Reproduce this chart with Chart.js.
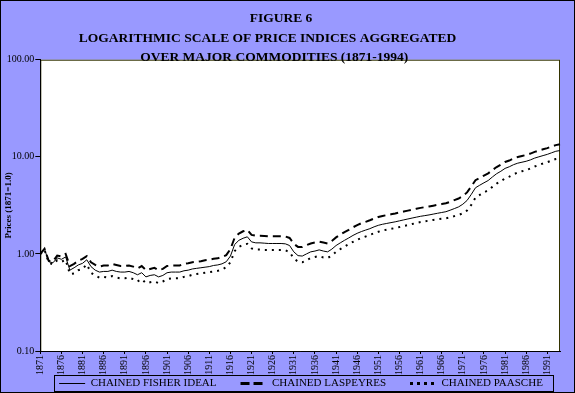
<!DOCTYPE html>
<html>
<head>
<meta charset="utf-8">
<script src="https://cdn.jsdelivr.net/npm/chart.js@4.4.0/dist/chart.umd.min.js"></script>
<style>
  html, body { margin: 0; padding: 0; background: #9999ff; }
</style>
</head>
<body>
<canvas id="fig6" width="575" height="393"></canvas>
<script>
// years 1871..1994, one point per year
const years = [];
for (let y = 1871; y <= 1994; y++) years.push(String(y));

const labelStep = 5;            // a year label every 5 years
const yTicks = [0.1, 1, 10, 100];

const fisher = [
  1.00, 1.12, 0.83, 0.81, 0.91, 0.88, 0.93, 0.68, 0.72, 0.77,
  0.80, 0.87, 0.74, 0.68, 0.65, 0.66, 0.66, 0.68, 0.66, 0.65,
  0.65, 0.66, 0.64, 0.61, 0.64, 0.58, 0.60, 0.61, 0.58, 0.60,
  0.64, 0.65, 0.65, 0.65, 0.67, 0.68, 0.70, 0.71, 0.72, 0.73,
  0.74, 0.76, 0.77, 0.79, 0.83, 0.95, 1.25, 1.38, 1.45, 1.50,
  1.33, 1.30, 1.30, 1.29, 1.28, 1.28, 1.28, 1.28, 1.27, 1.22,
  1.05, 0.96, 0.95, 1.00, 1.05, 1.07, 1.10, 1.07, 1.05, 1.12,
  1.22, 1.30, 1.38, 1.46, 1.55, 1.63, 1.70, 1.76, 1.82, 1.90,
  1.97, 2.02, 2.06, 2.10, 2.14, 2.19, 2.24, 2.29, 2.34, 2.39,
  2.44, 2.48, 2.52, 2.57, 2.62, 2.67, 2.72, 2.82, 2.93, 3.05,
  3.25, 3.55, 4.10, 4.80, 5.10, 5.40, 5.70, 6.20, 6.70, 7.10,
  7.60, 7.90, 8.30, 8.60, 8.80, 9.00, 9.30, 9.70, 10.00, 10.30,
  10.60, 11.00, 11.40, 11.60
];

const laspeyres = [
  1.00, 1.13, 0.85, 0.84, 0.96, 0.94, 1.00, 0.75, 0.79, 0.85,
  0.89, 0.95, 0.82, 0.77, 0.74, 0.76, 0.76, 0.79, 0.77, 0.75,
  0.75, 0.76, 0.74, 0.71, 0.75, 0.68, 0.70, 0.72, 0.68, 0.70,
  0.75, 0.76, 0.76, 0.76, 0.79, 0.80, 0.82, 0.83, 0.84, 0.86,
  0.87, 0.89, 0.90, 0.93, 0.97, 1.12, 1.47, 1.62, 1.71, 1.77,
  1.57, 1.54, 1.54, 1.53, 1.52, 1.52, 1.52, 1.52, 1.51, 1.46,
  1.27, 1.18, 1.18, 1.23, 1.28, 1.31, 1.34, 1.31, 1.28, 1.36,
  1.48, 1.58, 1.68, 1.77, 1.88, 1.98, 2.07, 2.14, 2.22, 2.31,
  2.40, 2.46, 2.51, 2.56, 2.61, 2.67, 2.73, 2.79, 2.85, 2.92,
  2.98, 3.03, 3.08, 3.14, 3.20, 3.26, 3.32, 3.44, 3.58, 3.72,
  3.95, 4.30, 4.95, 5.75, 6.05, 6.40, 6.75, 7.30, 7.85, 8.30,
  8.85, 9.15, 9.60, 9.95, 10.20, 10.45, 10.80, 11.25, 11.60, 11.95,
  12.30, 12.75, 13.20, 13.50
];

const paasche = [
  1.00, 1.10, 0.81, 0.78, 0.86, 0.83, 0.87, 0.62, 0.63, 0.68,
  0.70, 0.78, 0.64, 0.60, 0.57, 0.58, 0.57, 0.59, 0.57, 0.56,
  0.56, 0.57, 0.55, 0.52, 0.55, 0.50, 0.51, 0.52, 0.50, 0.52,
  0.55, 0.56, 0.56, 0.56, 0.58, 0.59, 0.61, 0.62, 0.63, 0.64,
  0.65, 0.66, 0.67, 0.69, 0.73, 0.82, 1.07, 1.18, 1.24, 1.27,
  1.14, 1.11, 1.11, 1.10, 1.10, 1.10, 1.10, 1.10, 1.09, 1.04,
  0.90, 0.83, 0.82, 0.86, 0.91, 0.93, 0.95, 0.92, 0.91, 0.96,
  1.05, 1.12, 1.19, 1.26, 1.33, 1.40, 1.46, 1.51, 1.57, 1.63,
  1.69, 1.74, 1.78, 1.81, 1.85, 1.89, 1.94, 1.98, 2.03, 2.08,
  2.13, 2.17, 2.20, 2.24, 2.27, 2.30, 2.33, 2.38, 2.45, 2.52,
  2.62, 2.80, 3.20, 3.80, 4.05, 4.30, 4.52, 4.90, 5.30, 5.60,
  6.00, 6.25, 6.60, 6.90, 7.10, 7.30, 7.60, 7.95, 8.25, 8.55,
  8.80, 9.15, 9.50, 9.70
];

const serif = 'Liberation Serif, Times New Roman, serif';
const legendGap = '        ';   // extra room after each legend entry
const legendShift = 20;         // legend sits a bit right of centre

// lavender page, white plot area, frames around plot, legend and page
const frames = {
  id: 'frames',
  afterLayout(chart) {
    chart.legend.left += legendShift;
    chart.legend.right += legendShift;
  },
  beforeDraw(chart) {
    const { ctx, chartArea: a, width, height } = chart;
    ctx.save();
    ctx.fillStyle = '#9999ff';
    ctx.fillRect(0, 0, width, height);
    ctx.fillStyle = '#ffffff';
    ctx.fillRect(a.left, a.top, a.right - a.left, a.bottom - a.top);
    ctx.strokeStyle = '#333300';
    ctx.lineWidth = 1;
    ctx.strokeRect(a.left + 0.5, a.top + 0.5, a.right - a.left - 1, a.bottom - a.top);
    ctx.restore();
  },
  afterDraw(chart) {
    const { ctx, width, height } = chart;
    const boxes = chart.legend.legendHitBoxes;
    ctx.save();
    ctx.strokeStyle = '#000000';
    ctx.lineWidth = 1;
    if (boxes && boxes.length) {
      let left = Infinity, right = -Infinity, top = Infinity, bottom = -Infinity;
      boxes.forEach(b => {
        left = Math.min(left, b.left);
        right = Math.max(right, b.left + b.width);
        top = Math.min(top, b.top);
        bottom = Math.max(bottom, b.top + b.height);
      });
      ctx.strokeRect(Math.round(left - 5) + 0.5, Math.round(top - 3) + 0.5,
        Math.round(right - left + 15), Math.round(bottom - top + 5));
    }
    ctx.strokeRect(0.5, 0.5, width - 1, height - 1);
    ctx.restore();
  }
};

new Chart(document.getElementById('fig6'), {
  type: 'line',
  data: {
    labels: years,
    datasets: [
      { label: 'CHAINED FISHER IDEAL', data: fisher, borderColor: '#000', borderWidth: 1 },
      { label: 'CHAINED LASPEYRES', data: laspeyres, borderColor: '#000', borderWidth: 2, borderDash: [8, 5] },
      { label: 'CHAINED PAASCHE', data: paasche, borderColor: '#000', borderWidth: 2, borderDash: [2, 5] }
    ]
  },
  options: {
    responsive: false,
    animation: false,
    devicePixelRatio: 1,
    layout: { padding: { left: 2, right: 15, top: 0, bottom: -6 } },
    elements: { point: { radius: 0 }, line: { tension: 0, fill: false } },
    plugins: {
      title: {
        display: true,
        text: ['FIGURE 6', 'LOGARITHMIC SCALE OF PRICE INDICES AGGREGATED        ', 'OVER MAJOR COMMODITIES (1871-1994)    '],
        color: '#000',
        font: { family: serif, size: 13.5, weight: 'bold', lineHeight: 1.45 },
        padding: { top: 9, bottom: -8 }
      },
      legend: {
        position: 'bottom',
        labels: {
          color: '#000',
          font: { family: serif, size: 11 },
          usePointStyle: true,
          pointStyle: 'line',
          pointStyleWidth: 26,
          padding: 2,
          generateLabels(chart) {
            const items = Chart.defaults.plugins.legend.labels.generateLabels(chart);
            return items.map((item, i) => {
              const ds = chart.data.datasets[item.datasetIndex];
              item.lineDash = ds.borderDash ? [ds.borderDash[0] + 1, ds.borderDash[1] - 1] : [];
              item.lineWidth = ds.borderWidth === 1 ? 1 : 3;
              item.text = i < items.length - 1 ? item.text + legendGap : item.text;
              return item;
            });
          }
        }
      },
      tooltip: { enabled: false }
    },
    scales: {
      x: {
        type: 'category',
        offset: false,
        border: { display: true, color: '#000' },
        grid: { drawOnChartArea: false, drawTicks: true, tickLength: 3, color: '#000' },
        ticks: {
          autoSkip: false, minRotation: 90, maxRotation: 90, padding: 1,
          color: '#000', font: { family: serif, size: 10 }
        },
        afterBuildTicks(scale) {
          scale.ticks = scale.ticks.filter(t => t.value % labelStep === 0);
        }
      },
      y: {
        type: 'logarithmic',
        min: 0.1,
        max: 100,
        border: { display: true, color: '#000' },
        grid: { drawOnChartArea: false, drawTicks: true, tickLength: 5, color: '#000' },
        ticks: {
          padding: 1, color: '#000', font: { family: serif, size: 10 },
          callback: v => Number(v).toFixed(2)
        },
        afterBuildTicks(scale) {
          scale.ticks = yTicks.map(v => ({ value: v }));
        },
        title: {
          display: true,
          text: 'Prices (1871=1.0)',
          color: '#000',
          font: { family: serif, size: 9, weight: 'bold' },
          padding: { top: 1, bottom: -8 }
        }
      }
    }
  },
  plugins: [frames]
});
</script>
</body>
</html>
